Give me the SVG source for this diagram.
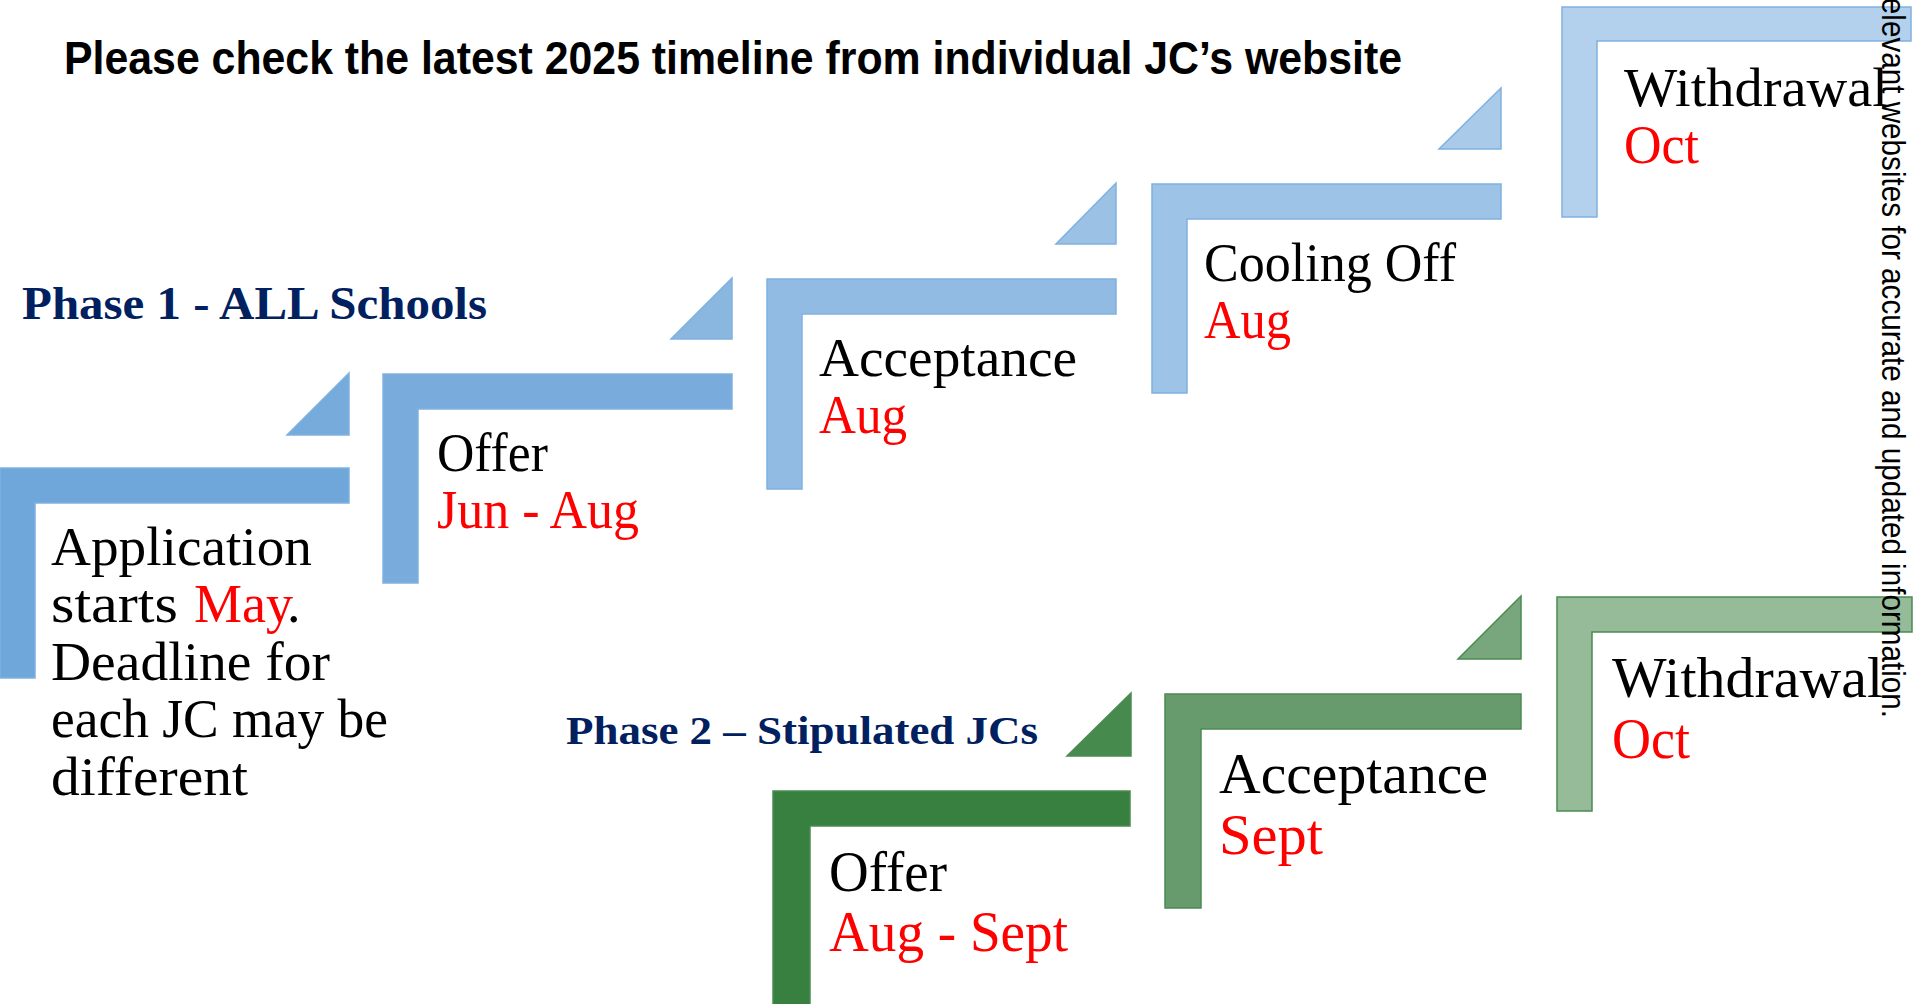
<svg xmlns="http://www.w3.org/2000/svg" width="1915" height="1004" viewBox="0 0 1915 1004">
<style>
.b{stroke:#7FB1E0;stroke-width:1.5}
.g{stroke:#4B8A52;stroke-width:1.5}
.t{font-family:"Liberation Serif","Times New Roman",serif;fill:#000;font-size:54px}
.tg{font-size:57px}
.r{fill:#FF0000}
.ph{font-family:"Liberation Serif","Times New Roman",serif;font-weight:bold;fill:#002060}
.title{font-family:"Liberation Sans",Arial,sans-serif;font-weight:bold;font-size:47px;fill:#000}
.side{font-family:"Liberation Sans",Arial,sans-serif;font-size:33px;fill:#000}
</style>
<rect width="1915" height="1004" fill="#FFFFFF"/>
<text class="title" x="64" y="74" textLength="1338" lengthAdjust="spacingAndGlyphs">Please check the latest 2025 timeline from individual JC’s website</text>
<text class="ph" x="22" y="319" font-size="46" textLength="465" lengthAdjust="spacingAndGlyphs">Phase 1 - ALL Schools</text>
<text class="ph" x="566" y="744" font-size="41" textLength="472" lengthAdjust="spacingAndGlyphs">Phase 2 – Stipulated JCs</text>
<g id="connectors">
<polygon class="b" fill="#77ABDB" points="287,435 349,435 349,373"/>
<polygon class="b" fill="#8AB7E0" points="671,339 732,339 732,278"/>
<polygon class="b" fill="#9BC1E5" points="1056,244 1116,244 1116,183"/>
<polygon class="b" fill="#A9CAE9" points="1439,149 1501,149 1501,88"/>
<polygon class="g" fill="#468A4D" points="1067,756 1131,756 1131,693"/>
<polygon class="g" fill="#78A77D" points="1458,659 1521,659 1521,596"/>
</g>
<g id="p1-application">
<path class="b" fill="#6FA7DA" d="M0 468 H349 V503 H35 V678 H0 Z"/>
<text class="t" x="51" y="565" textLength="261" lengthAdjust="spacingAndGlyphs">Application</text>
<text class="t" x="51" y="622"><tspan textLength="127" lengthAdjust="spacingAndGlyphs">starts</tspan><tspan class="r" x="194">May</tspan><tspan x="287">.</tspan></text>
<text class="t" x="51" y="680" textLength="279" lengthAdjust="spacingAndGlyphs">Deadline for</text>
<text class="t" x="51" y="737" textLength="337" lengthAdjust="spacingAndGlyphs">each JC may be</text>
<text class="t" x="51" y="795" textLength="197" lengthAdjust="spacingAndGlyphs">different</text>
</g>
<g id="p1-offer">
<path class="b" fill="#79ACDC" d="M383 374 H732 V409 H418 V583 H383 Z"/>
<text class="t" x="437" y="471" textLength="111" lengthAdjust="spacingAndGlyphs">Offer</text>
<text class="t r" x="437" y="528" textLength="202" lengthAdjust="spacingAndGlyphs">Jun - Aug</text>
</g>
<g id="p1-acceptance">
<path class="b" fill="#91BBE3" d="M767 279 H1116 V314 H802 V489 H767 Z"/>
<text class="t" x="819" y="376" textLength="258" lengthAdjust="spacingAndGlyphs">Acceptance</text>
<text class="t r" x="819" y="433" textLength="88" lengthAdjust="spacingAndGlyphs">Aug</text>
</g>
<g id="p1-cooling-off">
<path class="b" fill="#9DC3E6" d="M1152 184 H1501 V219 H1187 V393 H1152 Z"/>
<text class="t" x="1204" y="281" textLength="252" lengthAdjust="spacingAndGlyphs">Cooling Off</text>
<text class="t r" x="1204" y="338" textLength="87" lengthAdjust="spacingAndGlyphs">Aug</text>
</g>
<g id="p1-withdrawal">
<path class="b" fill="#B3D0EC" d="M1562 7 H1911 V41 H1597 V217 H1562 Z"/>
<text class="t" x="1624" y="106" textLength="264" lengthAdjust="spacingAndGlyphs">Withdrawal</text>
<text class="t r" x="1624" y="163" textLength="75" lengthAdjust="spacingAndGlyphs">Oct</text>
</g>
<g id="p2-offer">
<path class="g" fill="#38803F" d="M773 791 H1130 V826 H810 V1010 H773 Z"/>
<text class="t tg" x="829" y="891" textLength="118" lengthAdjust="spacingAndGlyphs">Offer</text>
<text class="t tg r" x="829" y="951" textLength="239" lengthAdjust="spacingAndGlyphs">Aug - Sept</text>
</g>
<g id="p2-acceptance">
<path class="g" fill="#679B6E" d="M1165 694 H1521 V729 H1201 V908 H1165 Z"/>
<text class="t tg" x="1219" y="793" textLength="269" lengthAdjust="spacingAndGlyphs">Acceptance</text>
<text class="t tg r" x="1219" y="854" textLength="104" lengthAdjust="spacingAndGlyphs">Sept</text>
</g>
<g id="p2-withdrawal">
<path class="g" fill="#95BB98" d="M1557 597 H1912 V632 H1592 V811 H1557 Z"/>
<text class="t tg" x="1612" y="697" textLength="271" lengthAdjust="spacingAndGlyphs">Withdrawal</text>
<text class="t tg r" x="1612" y="758" textLength="78" lengthAdjust="spacingAndGlyphs">Oct</text>
</g>
<text class="side" transform="translate(1882,-12) rotate(90)" x="0" y="0" textLength="730" lengthAdjust="spacingAndGlyphs">relevant websites for accurate and updated information.</text>
</svg>
